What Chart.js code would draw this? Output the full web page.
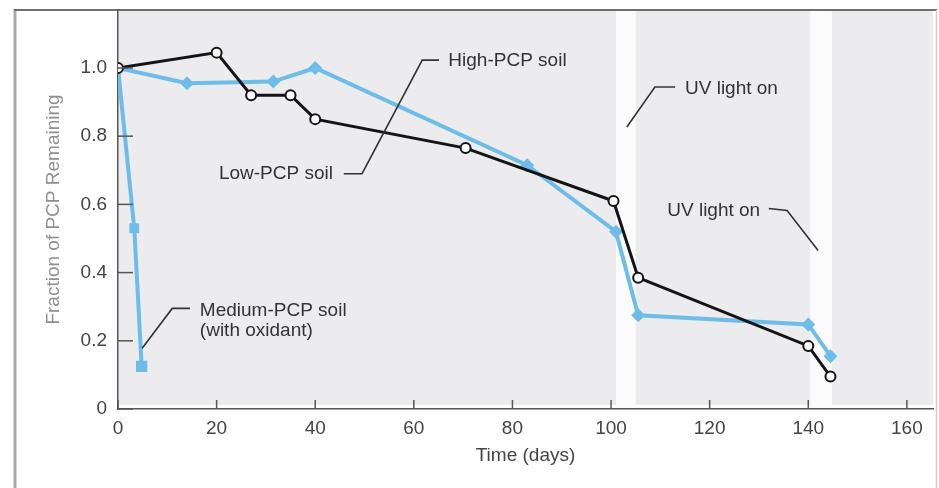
<!DOCTYPE html>
<html>
<head>
<meta charset="utf-8">
<script src="https://cdn.jsdelivr.net/npm/chart.js@4.4.1/dist/chart.umd.min.js"></script>
<style>
  html, body { margin: 0; padding: 0; background: #fff; }
</style>
</head>
<body>
<canvas id="pcpChart" width="939" height="488"></canvas>
<script>
// values: time in days, fraction of PCP remaining
const lowDays  = [0, 20, 27, 35, 40, 70.5, 100.5, 105.5, 140, 144.5];
const lowFrac  = [1.0, 1.045, 0.92, 0.92, 0.85, 0.765, 0.61, 0.385, 0.185, 0.095];
const highDays = [0, 14, 31.5, 40, 83, 101, 105.5, 140, 144.5];
const highFrac = [1.0, 0.955, 0.96, 1.0, 0.715, 0.52, 0.275, 0.248, 0.155];
const medDays  = [0, 3.3, 4.8];
const medFrac  = [1.0, 0.53, 0.125];

// periods with UV light on (white bands)
const uvBands = [[101, 105], [140.4, 144.8]];

const xTicks = [0, 20, 40, 60, 80, 100, 120, 140, 160];
const yTicks = [0, 0.2, 0.4, 0.6, 0.8, 1.0];

const BLUE = '#6dbde8';
const INK = '#333';
const FONT = '"Liberation Sans", Arial, Helvetica, sans-serif';

// labels with leader lines, in data units
const notes = [
    { lines: ['High-PCP soil'], x: 67, y: 1.02, align: 'left',
      leader: [[65.1, 1.023], [61.7, 1.023], [49.5, 0.69], [45.8, 0.69]] },
    { lines: ['Low-PCP soil'], x: 43.6, y: 0.69, align: 'right' },
    { lines: ['Medium-PCP soil', '(with oxidant)'], x: 16.6, y: 0.289, align: 'left',
      leader: [[14.6, 0.295], [11.0, 0.295], [4.9, 0.178]] },
    { lines: ['UV light on'], x: 115.0, y: 0.94, align: 'left',
      leader: [[113.0, 0.944], [108.9, 0.944], [103.2, 0.827]] },
    { lines: ['UV light on'], x: 111.4, y: 0.582, align: 'left',
      leader: [[132.0, 0.588], [135.7, 0.582], [142.0, 0.465]] }
];

const pts = (xs, ys) => xs.map((d, i) => ({ x: d, y: ys[i] }));

// background, UV bands and the outer frame
const backdrop = {
    id: 'backdrop',
    beforeDraw(chart) {
        const { ctx, chartArea: a, scales: { x } } = chart;
        ctx.save();
        ctx.fillStyle = '#ececee';
        ctx.fillRect(a.left, a.top, a.right - a.left, a.bottom - a.top - 4);
        ctx.fillStyle = '#fbfbfb';
        uvBands.forEach(([s, e]) => {
            const x0 = x.getPixelForValue(s), x1 = x.getPixelForValue(e);
            ctx.fillRect(x0, a.top, x1 - x0, a.bottom - a.top);
        });
        // frame
        ctx.strokeStyle = '#a9a9a9';
        ctx.lineWidth = 3;
        ctx.beginPath(); ctx.moveTo(15, 9); ctx.lineTo(15, 488); ctx.stroke();
        ctx.strokeStyle = '#6f6f6f';
        ctx.lineWidth = 2;
        ctx.beginPath(); ctx.moveTo(14, 10); ctx.lineTo(937, 10); ctx.stroke();
        ctx.strokeStyle = '#cfcfcf';
        ctx.lineWidth = 1.5;
        ctx.beginPath(); ctx.moveTo(936.5, 10); ctx.lineTo(936.5, 488); ctx.stroke();
        ctx.restore();
    }
};

// inward tick marks plus the annotations
const extras = {
    id: 'extras',
    afterDatasetsDraw(chart) {
        const { ctx, chartArea: a, scales: { x, y } } = chart;
        ctx.save();
        ctx.strokeStyle = '#555';
        ctx.lineWidth = 1.5;
        yTicks.forEach(v => {
            const py = y.getPixelForValue(v);
            ctx.beginPath(); ctx.moveTo(a.left, py); ctx.lineTo(a.left + 15, py); ctx.stroke();
        });
        xTicks.forEach(v => {
            const px = x.getPixelForValue(v);
            ctx.beginPath(); ctx.moveTo(px, a.bottom); ctx.lineTo(px, a.bottom - 9); ctx.stroke();
        });

        ctx.strokeStyle = INK;
        ctx.lineWidth = 1.6;
        ctx.fillStyle = INK;
        ctx.font = '19px ' + FONT;
        ctx.textBaseline = 'middle';
        notes.forEach(n => {
            if (n.leader) {
                ctx.beginPath();
                n.leader.forEach(([dx, dy], i) => {
                    const px = x.getPixelForValue(dx), py = y.getPixelForValue(dy);
                    if (i) ctx.lineTo(px, py); else ctx.moveTo(px, py);
                });
                ctx.stroke();
            }
            ctx.textAlign = n.align;
            n.lines.forEach((t, i) => {
                ctx.fillText(t, x.getPixelForValue(n.x), y.getPixelForValue(n.y) + i * 20);
            });
        });
        ctx.restore();
    }
};

Chart.defaults.font.family = FONT;

new Chart(document.getElementById('pcpChart'), {
    type: 'line',
    data: {
        datasets: [
            {
                label: 'Low-PCP soil',
                data: pts(lowDays, lowFrac),
                borderColor: '#141414',
                borderWidth: 3,
                pointStyle: 'circle',
                pointRadius: 5,
                pointBorderWidth: 2,
                pointBorderColor: '#141414',
                pointBackgroundColor: '#fff',
                tension: 0
            },
            {
                label: 'High-PCP soil',
                data: pts(highDays, highFrac),
                borderColor: BLUE,
                borderWidth: 4,
                pointStyle: 'rectRot',
                pointRadius: 7,
                pointBorderWidth: 0,
                pointBackgroundColor: BLUE,
                tension: 0
            },
            {
                label: 'Medium-PCP soil (with oxidant)',
                data: pts(medDays, medFrac),
                borderColor: BLUE,
                borderWidth: 4,
                pointStyle: 'rect',
                pointRadius: [0, 7, 8],
                pointBorderWidth: 0,
                pointBackgroundColor: BLUE,
                tension: 0
            }
        ]
    },
    options: {
        responsive: false,
        animation: false,
        devicePixelRatio: 1,
        layout: { autoPadding: false, padding: { left: 0, top: 10, right: 6, bottom: 0 } },
        plugins: {
            legend: { display: false },
            tooltip: { enabled: false }
        },
        scales: {
            x: {
                type: 'linear',
                min: 0,
                max: 165.3,
                afterBuildTicks: s => { s.ticks = xTicks.map(v => ({ value: v })); },
                afterFit: s => { s.height = 79; s.paddingLeft = 0; s.paddingRight = 0; },
                grid: { display: false, drawTicks: false },
                border: { display: true, color: '#555', width: 1.5 },
                ticks: { color: '#444', font: { size: 19 }, padding: 8, maxRotation: 0,
                         callback: v => String(v) },
                title: { display: true, text: 'Time (days)', color: '#444',
                         font: { size: 19 }, padding: { top: 0, bottom: 21 } }
            },
            y: {
                min: 0,
                max: 1.17,
                afterBuildTicks: s => { s.ticks = yTicks.map(v => ({ value: v })); },
                afterFit: s => { s.width = 118; s.paddingTop = 0; s.paddingBottom = 0; },
                grid: { display: false, drawTicks: false },
                border: { display: true, color: '#555', width: 1.5 },
                ticks: { color: '#444', font: { size: 19 }, padding: 11,
                         callback: v => (v === 0 ? '0' : v.toFixed(1)) },
                title: { display: true, text: 'Fraction of PCP Remaining', color: '#8f8f8f',
                         font: { size: 19 }, padding: { top: 42, bottom: 0 } }
            }
        }
    },
    plugins: [backdrop, extras]
});
</script>
</body>
</html>
